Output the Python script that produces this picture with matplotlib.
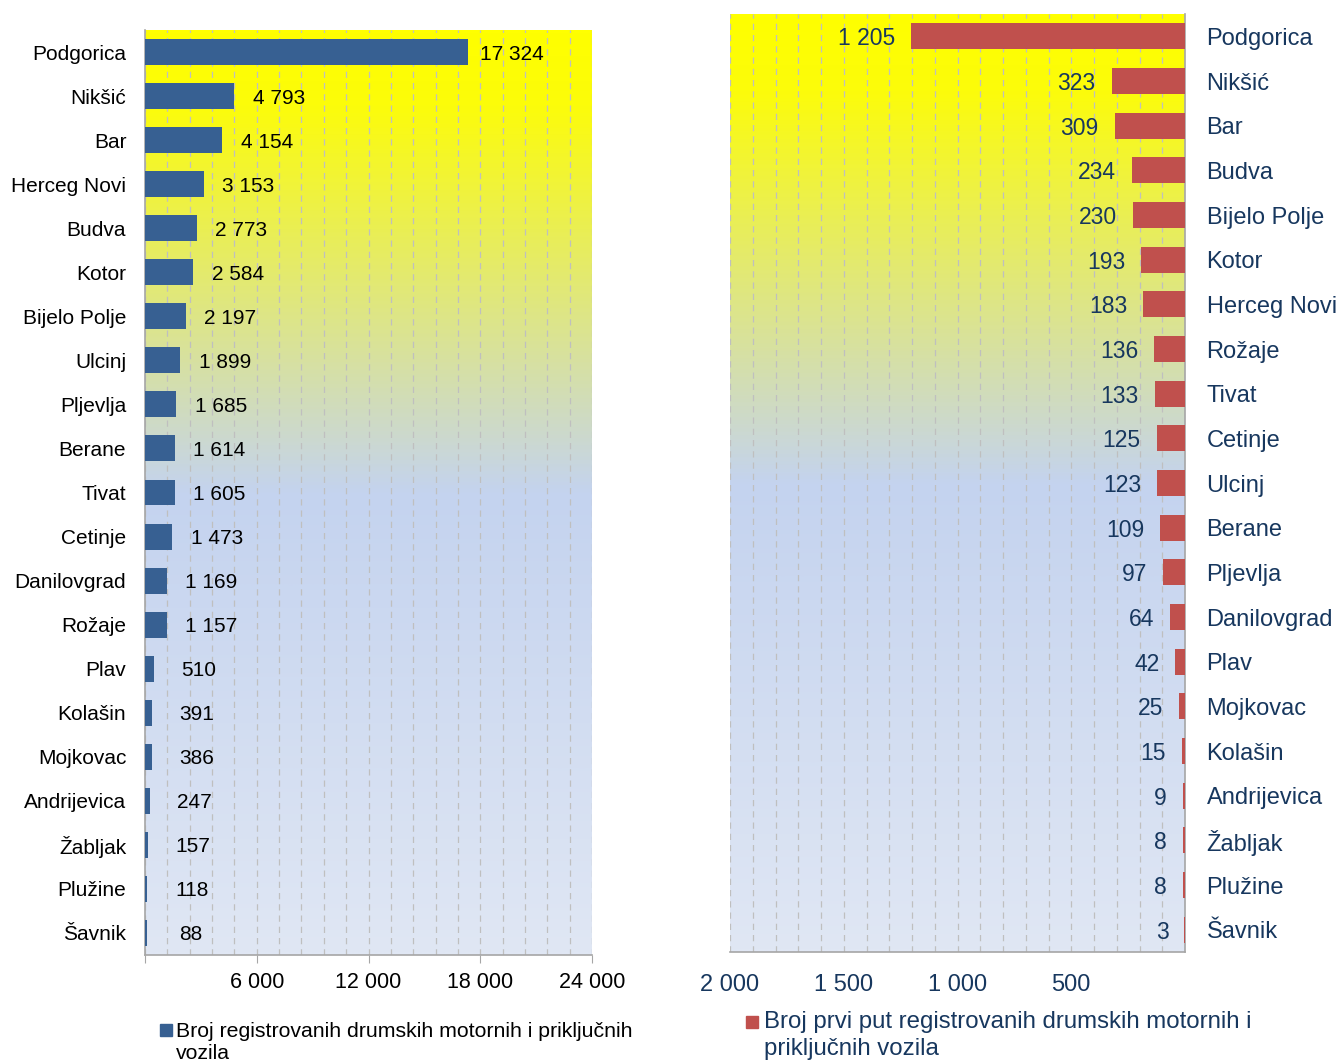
import numpy as np
import matplotlib.pyplot as plt
from matplotlib.colors import LinearSegmentedColormap
from matplotlib.patches import Rectangle
from matplotlib.ticker import MultipleLocator, FixedLocator

plt.rcParams['font.family'] = ['Liberation Sans', 'DejaVu Sans']

# lijevi grafik - ukupno registrovana vozila
cities_total = ["Podgorica", "Nikšić", "Bar", "Herceg Novi", "Budva", "Kotor",
                "Bijelo Polje", "Ulcinj", "Pljevlja", "Berane", "Tivat", "Cetinje",
                "Danilovgrad", "Rožaje", "Plav", "Kolašin", "Mojkovac",
                "Andrijevica", "Žabljak", "Plužine", "Šavnik"]
registered = [17324, 4793, 4154, 3153, 2773, 2584, 2197, 1899, 1685, 1614,
              1605, 1473, 1169, 1157, 510, 391, 386, 247, 157, 118, 88]

# desni grafik - prvi put registrovana vozila
cities_first = ["Podgorica", "Nikšić", "Bar", "Budva", "Bijelo Polje", "Kotor",
                "Herceg Novi", "Rožaje", "Tivat", "Cetinje", "Ulcinj", "Berane",
                "Pljevlja", "Danilovgrad", "Plav", "Mojkovac", "Kolašin",
                "Andrijevica", "Žabljak", "Plužine", "Šavnik"]
first_time = [1205, 323, 309, 234, 230, 193, 183, 136, 133, 125, 123, 109,
              97, 64, 42, 25, 15, 9, 8, 8, 3]

left_ticks = [0, 6000, 12000, 18000, 24000]
right_ticks = [2000, 1500, 1000, 500]

BLUE = "#376092"
RED = "#C0504D"
NAVY = "#17375E"
GRID = "#BFBFBF"
SPINE = "#A6A6A6"

bg_cmap = LinearSegmentedColormap.from_list(
    "bg", [(0.0, "#FFFF00"), (0.08, "#FCFC0A"), (0.5, "#C4D3EF"), (1.0, "#E0E7F4")])


def fmt(v):
    return f"{v:,}".replace(",", " ")


def paint_background(ax):
    grad = np.linspace(0, 1, 512).reshape(-1, 1)
    ax.imshow(grad, extent=[0, 1, 0, 1], transform=ax.transAxes, aspect="auto",
              cmap=bg_cmap, zorder=0, origin="upper")


def style_axes(ax, minor_step):
    ax.xaxis.set_minor_locator(MultipleLocator(minor_step))
    ax.grid(which="both", axis="x", color=GRID, linestyle=(0, (5, 4)), linewidth=0.9)
    ax.set_axisbelow(True)
    ax.tick_params(axis="x", which="minor", length=0)
    ax.tick_params(axis="y", length=0)
    for s in ax.spines.values():
        s.set_color(SPINE)
        s.set_linewidth(1.2)


fig = plt.figure(figsize=(13.41, 10.61), dpi=100)

# ---- lijevo
ax1 = fig.add_axes([145 / 1341, 1 - 955 / 1061, 447 / 1341, 925 / 1061])
paint_background(ax1)
y1 = np.arange(len(cities_total))
ax1.barh(y1, registered, height=0.59, color=BLUE, zorder=3)
for i, v in enumerate(registered):
    ax1.annotate(fmt(v), (v, i), xytext=(32, 0), textcoords="offset points",
                 ha="center", va="center_baseline", fontsize=15, color="black", zorder=4)
ax1.set_xlim(0, 24000)
ax1.set_ylim(len(cities_total) - 0.5, -0.5)
ax1.xaxis.set_major_locator(FixedLocator(left_ticks))
ax1.set_xticklabels([""] + [fmt(t) for t in left_ticks[1:]])
ax1.set_yticks(y1)
ax1.set_yticklabels(cities_total)
style_axes(ax1, 1200)
ax1.tick_params(axis="x", which="major", length=6, color=SPINE, pad=6, labelsize=15.5)
ax1.tick_params(axis="y", pad=13.5, labelsize=15)
ax1.spines["top"].set_visible(False)
ax1.spines["right"].set_visible(False)

# ---- desno
ax2 = fig.add_axes([730 / 1341, 1 - 952 / 1061, 455 / 1341, 938 / 1061])
paint_background(ax2)
y2 = np.arange(len(cities_first))
ax2.barh(y2, first_time, height=0.58, color=RED, zorder=3)
for i, v in enumerate(first_time):
    ax2.annotate(fmt(v), (v, i), xytext=(-11.5, 0), textcoords="offset points",
                 ha="right", va="center_baseline", fontsize=16.5, color=NAVY, zorder=4)
ax2.set_xlim(2000, 0)
ax2.set_ylim(len(cities_first) - 0.5, -0.5)
ax2.xaxis.set_major_locator(FixedLocator(right_ticks))
ax2.set_xticklabels([fmt(t) for t in right_ticks])
ax2.yaxis.tick_right()
ax2.set_yticks(y2)
ax2.set_yticklabels(cities_first)
style_axes(ax2, 100)
ax2.tick_params(axis="x", which="major", length=0, pad=16, labelsize=17, labelcolor=NAVY)
ax2.tick_params(axis="y", pad=15.5, labelsize=17, labelcolor=NAVY)
ax2.spines["top"].set_visible(False)
ax2.spines["left"].set_visible(False)

# ---- legende
W, H = 1341, 1061
fig.patches.append(Rectangle((160 / W, 1 - 1036 / H), 12 / W, 12 / H,
                             transform=fig.transFigure, color=BLUE))
fig.text(176 / W, 1 - 1022 / H, "Broj registrovanih drumskih motornih i priključnih\nvozila",
         ha="left", va="top", fontsize=15.3, linespacing=1.18, color="black")
fig.patches.append(Rectangle((746 / W, 1 - 1028 / H), 12 / W, 12 / H,
                             transform=fig.transFigure, color=RED))
fig.text(764 / W, 1 - 1011 / H, "Broj prvi put registrovanih drumskih motornih i\npriključnih vozila",
         ha="left", va="top", fontsize=17.3, linespacing=1.32, color=NAVY)

fig.savefig("out.png", dpi=100)
